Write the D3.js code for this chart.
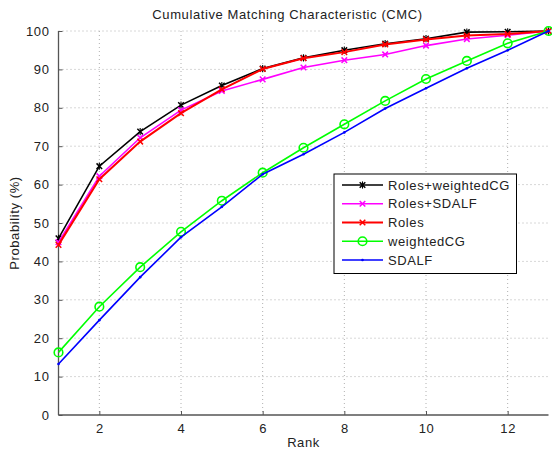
<!DOCTYPE html>
<html><head><meta charset="utf-8">
<script src="https://cdn.jsdelivr.net/npm/d3@7"></script>
<style>body{margin:0;background:#fff}svg{display:block}text{font-family:"Liberation Sans",Arial,sans-serif}</style>
</head><body>
<svg id="c" width="552" height="452"></svg>
<script>
const ranks = [1,2,3,4,5,6,7,8,9,10,11,12,13];
const rolesWeightedCG = [46.0,64.8,73.8,80.7,85.8,90.2,93.0,95.0,96.7,98.0,99.7,99.8,100];
const rolesSDALF      = [45.0,62.2,72.2,79.4,84.4,87.4,90.5,92.4,93.9,96.2,97.9,98.9,100];
const roles           = [44.3,61.4,71.2,78.6,84.8,90.1,92.9,94.5,96.5,97.8,98.8,99.2,100];
const weightedCG      = [16.3,28.2,38.5,47.7,55.8,63.1,69.6,75.7,81.8,87.5,92.2,96.8,100];
const sdalf           = [13.3,24.7,35.9,46.3,54.2,62.7,67.9,73.6,79.8,85.1,90.3,95.0,100];
const xTicks = [2,4,6,8,10,12];
const yTicks = [0,10,20,30,40,50,60,70,80,90,100];
const seriesNames = ["Roles+weightedCG","Roles+SDALF","Roles","weightedCG","SDALF"];
const seriesColors = ["#000000","#ff00ff","#ff0000","#00ff00","#0000ff"];
const seriesMarkers = ["star","x","x","o","dot"];
const seriesData = [rolesWeightedCG, rolesSDALF, roles, weightedCG, sdalf];

const svg = d3.select("#c");
const L = 58.5, R = 548.5, T = 31, B = 415;
const x = d3.scaleLinear().domain([1,13]).range([L,R]);
const y = d3.scaleLinear().domain([0,100]).range([B,T]);
const FS = 13, LS = 0.6;

// grid
const g = svg.append("g");
g.selectAll(".gx").data(xTicks).join("line")
 .attr("x1",d=>x(d)).attr("x2",d=>x(d)).attr("y1",T).attr("y2",B)
 .attr("stroke","#b0b0b0").attr("stroke-width",1).attr("stroke-dasharray","1,3");
g.selectAll(".gy").data(yTicks.filter(d=>d>0)).join("line")
 .attr("x1",L).attr("x2",R).attr("y1",d=>y(d)).attr("y2",d=>y(d))
 .attr("stroke","#b0b0b0").attr("stroke-width",1).attr("stroke-dasharray","1,3");

// axes
const xAxis = d3.axisBottom(x).tickValues(xTicks).tickSize(-4).tickPadding(9).tickFormat(d3.format("d"));
const yAxis = d3.axisLeft(y).tickValues(yTicks).tickSize(-4).tickPadding(9).tickFormat(d3.format("d"));
const gx = svg.append("g").attr("transform",`translate(0,${B})`).call(xAxis);
const gy = svg.append("g").attr("transform",`translate(${L},0)`).call(yAxis);
[gx,gy].forEach(a=>{
  a.select(".domain").attr("stroke","#555").attr("stroke-width",1.3);
  a.selectAll(".tick line").attr("stroke","#555");
  a.selectAll(".tick text").attr("font-size",FS).attr("fill","#222").attr("letter-spacing",LS)
   .attr("font-family","Liberation Sans, Arial, sans-serif");
});
gx.select(".domain").attr("d",`M${L},0H${R}`);
gy.select(".domain").attr("d",`M0,${T}V${B}`);

// title and labels
svg.append("text").attr("x",(L+R)/2 - 16).attr("y",19).attr("text-anchor","middle")
 .attr("font-size",FS).attr("letter-spacing",LS).attr("fill","#222").text("Cumulative Matching Characteristic (CMC)");
svg.append("text").attr("x",(L+R)/2).attr("y",447).attr("text-anchor","middle")
 .attr("font-size",FS).attr("letter-spacing",LS).attr("fill","#222").text("Rank");
svg.append("text").attr("transform",`translate(19,${(T+B)/2}) rotate(-90)`).attr("text-anchor","middle")
 .attr("font-size",FS).attr("letter-spacing",LS).attr("fill","#222").text("Probability (%)");

function marker(sel, type, color, cx, cy){
  if(type==="o"){
    sel.append("circle").attr("cx",cx).attr("cy",cy).attr("r",4.3).attr("fill","none").attr("stroke",color).attr("stroke-width",1.6);
  } else if(type==="x"||type==="star"){
    const s=2.8;
    sel.append("path").attr("d",`M${cx-s},${cy-s}L${cx+s},${cy+s}M${cx-s},${cy+s}L${cx+s},${cy-s}`)
      .attr("stroke",color).attr("stroke-width",1.5).attr("fill","none");
    if(type==="star"){
      sel.append("path").attr("d",`M${cx},${cy-3.6}L${cx},${cy+3.6}`).attr("stroke",color).attr("stroke-width",1.1);
    }
  } else {
    sel.append("circle").attr("cx",cx).attr("cy",cy).attr("r",1.3).attr("fill",color);
  }
}

const line = d3.line().x((d,i)=>x(ranks[i])).y(d=>y(d));
seriesData.forEach((vals,si)=>{
  const sg = svg.append("g");
  sg.append("path").datum(vals).attr("d",line).attr("fill","none")
    .attr("stroke",seriesColors[si]).attr("stroke-width",si===2?2:1.6);
  vals.forEach((v,i)=>marker(sg, seriesMarkers[si], seriesColors[si], x(ranks[i]), y(v)));
});

// legend
const lg = svg.append("g");
lg.append("rect").attr("x",334).attr("y",174).attr("width",182.5).attr("height",99.5)
  .attr("fill","#fff").attr("stroke","#000").attr("stroke-width",1);
seriesNames.forEach((n,i)=>{
  const yy = 185 + i*18.75;
  lg.append("line").attr("x1",342).attr("x2",383).attr("y1",yy).attr("y2",yy)
    .attr("stroke",seriesColors[i]).attr("stroke-width",i===2?2:1.6);
  marker(lg, seriesMarkers[i], seriesColors[i], 362.5, yy);
  lg.append("text").attr("x",388).attr("y",yy+4.5).attr("font-size",FS).attr("letter-spacing",LS).attr("fill","#222").text(n);
});
</script>
</body></html>
